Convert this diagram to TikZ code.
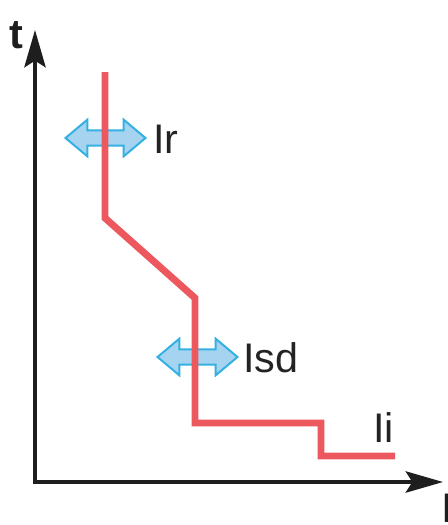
\documentclass[tikz,border=0pt]{standalone}
\usepackage{fontspec}
\setmainfont{Liberation Sans}
\usetikzlibrary{arrows.meta}
\usetikzlibrary{shapes.arrows}
\usetikzlibrary{positioning}
\definecolor{tripred}{RGB}{236,88,94}
\definecolor{setfill}{RGB}{166,212,240}
\definecolor{setline}{RGB}{52,176,226}
\definecolor{axisgray}{RGB}{30,30,30}
\definecolor{labelgray}{RGB}{35,35,35}
\tikzset{axis/.style = {line width=2.6pt, draw=axisgray,
                        {Stealth[length=28pt, width=16pt, inset=5pt]}-{Stealth[length=28pt, width=16pt, inset=5pt]}},
         curve/.style = {line width=5.2pt, draw=tripred},
         setting/.style = {double arrow, draw=setline, fill=setfill, line width=1.5pt,
                           inner xsep=0pt, inner ysep=5pt, minimum height=60pt,
                           double arrow head extend=8pt, double arrow tip angle=80},
         lbl/.style = {font=\fontsize{31}{34}\selectfont, text=labelgray,
                       inner sep=0pt, anchor=base west}}

\begin{document}
\begin{tikzpicture}[x=0.75pt, y=-0.75pt]
      \useasboundingbox (0, 0) rectangle (448, 525);
      \coordinate (ytip) at (35, 30);
      \coordinate (xtip) at (443, 482);
      \draw [axis] (ytip) |- (xtip);
      \node [lbl, text=axisgray, font=\fontsize{31}{34}\selectfont\bfseries] (tlabel) at (9, 48) {t};
      \node [lbl, text=axisgray] (ilabel) at (441, 522) {I};
      % settings
      \node [setting] (irarrow) at (105.5, 138) {};
      \node [setting] (isdarrow) at (197.5, 357) {};
      \node [lbl] (irlabel) at (153, 153) {Ir};
      \node [lbl] (isdlabel) at (243, 372) {Isd};
      \node [lbl] (iilabel) at (373, 442) {Ii};
      % tripping curve
      \draw [curve] (105, 72) -- (105, 218) -- (195, 298) -- (195, 423)
                    -- (321, 423) -- (321, 456) -- (395, 456);
    \end{tikzpicture}
\end{document}
